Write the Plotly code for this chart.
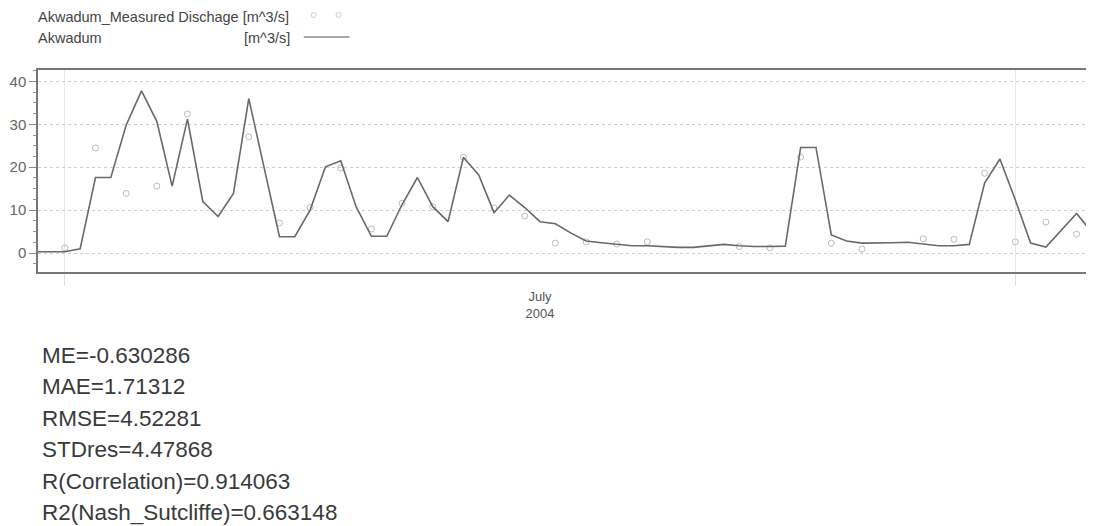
import pandas as pd
import plotly.graph_objs as go

# simulated flow, every 12 hours starting 2004-06-30 00:00
sim_start = "2004-06-30 00:00"
sim_flow = [0.3, 0.3, 0.3, 1.0, 17.6, 17.6, 29.8, 37.8, 30.7, 15.6,
            31.2, 12.0, 8.5, 13.9, 36.0, 19.9, 3.8, 3.8, 10.0, 20.1,
            21.5, 10.8, 3.9, 3.9, 11.3, 17.6, 10.8, 7.3, 22.3, 18.2,
            9.4, 13.5, 10.6, 7.3, 6.8, 4.7, 2.8, 2.4, 2.1, 1.7,
            1.7, 1.5, 1.3, 1.3, 1.7, 2.0, 1.7, 1.5, 1.5, 1.6,
            24.6, 24.6, 4.2, 2.8, 2.3, 2.3, 2.4, 2.5, 2.1, 1.7,
            1.7, 2.0, 16.3, 21.9, 12.4, 2.3, 1.4, 5.4, 9.2, 4.8]

# measured discharge, daily from 2004-07-01
obs_start = "2004-07-01"
obs_flow = [1.2, 24.5, 13.9, 15.6, 32.4, None, 27.1, 7.0, 10.6, 19.8,
            5.6, 11.6, 10.8, 22.3, 10.5, 8.6, 2.3, 2.6, 2.1, 2.6,
            None, None, 1.5, 1.2, 22.4, 2.3, 0.9, None, 3.3, 3.2,
            18.6, 2.6, 7.2, 4.4]

stats_lines = ["ME=-0.630286", "MAE=1.71312", "RMSE=4.52281", "STDres=4.47868",
               "R(Correlation)=0.914063", "R2(Nash_Sutcliffe)=0.663148"]

legend_obs = "Akwadum_Measured Dischage [m^3/s]"
legend_sim = "Akwadum"
legend_unit = "[m^3/s]"

FONT = "Liberation Sans, Arial, sans-serif"
# the page adds an 8px body margin, so the figure is 8px smaller than the window
OFF = 8
W_FIG, H_FIG = 1094 - OFF, 526 - OFF
L, R, T, B = 35 - OFF, 2, 70 - OFF, 254


def px_x(x):
    # page pixel -> paper x
    return (x - OFF - L) / (W_FIG - L - R)


def px_y(y):
    # page pixel -> paper y
    return (H_FIG - B - (y - OFF)) / (H_FIG - T - B)


sim_dates = pd.date_range(sim_start, periods=len(sim_flow), freq="12h")
obs_dates = pd.date_range(obs_start, periods=len(obs_flow), freq="D")

fig = go.Figure()
fig.add_scatter(x=obs_dates, y=obs_flow, mode="markers", showlegend=False,
                marker=dict(symbol="circle-open", size=6, color="#bcbcbc", line=dict(width=1)))
fig.add_scatter(x=sim_dates, y=sim_flow, mode="lines", showlegend=False,
                line=dict(color="#696969", width=1.6))

annotations = []
# stats text block
for i, txt in enumerate(stats_lines):
    annotations.append(dict(text=txt, xref="paper", yref="paper", x=px_x(37), y=px_y(355 + 31.6 * i),
                            xanchor="left", yanchor="middle", showarrow=False,
                            font=dict(family=FONT, size=22.5, color="#3a3a3a")))

# hand-made legend (text first, symbol after)
annotations.append(dict(text=legend_obs, xref="paper", yref="paper", x=px_x(33), y=px_y(17),
                        xanchor="left", yanchor="middle", showarrow=False,
                        font=dict(family=FONT, size=14.5, color="#444")))
annotations.append(dict(text=legend_sim, xref="paper", yref="paper", x=px_x(33), y=px_y(38),
                        xanchor="left", yanchor="middle", showarrow=False,
                        font=dict(family=FONT, size=14.5, color="#444")))
annotations.append(dict(text=legend_unit, xref="paper", yref="paper", x=px_x(290), y=px_y(38),
                        xanchor="right", yanchor="middle", showarrow=False,
                        font=dict(family=FONT, size=14.5, color="#444")))

shapes = [
    dict(type="line", xref="paper", yref="paper", x0=px_x(302), x1=px_x(348), y0=px_y(37), y1=px_y(37),
         line=dict(color="#555", width=1.2)),
]
for cx in (312, 337):
    shapes.append(dict(type="circle", xref="paper", yref="paper", xsizemode="pixel", ysizemode="pixel",
                       xanchor=px_x(cx), yanchor=px_y(15), x0=-2.5, x1=2.5, y0=-2.5, y1=2.5,
                       line=dict(color="#cccccc", width=1)))

fig.update_layout(
    width=W_FIG, height=H_FIG,
    margin=dict(l=L, r=R, t=T, b=B),
    paper_bgcolor="white", plot_bgcolor="white",
    font=dict(family=FONT, color="#555"),
    annotations=annotations,
    shapes=shapes,
    xaxis=dict(type="date", range=["2004-06-30 03:00", "2004-08-03 10:30"],
               tickmode="linear", tick0="2004-07-01", dtick="M1",
               ticklabelmode="period", tickformat="%B<br>%Y",
               ticks="outside", ticklen=12, tickcolor="#dddddd",
               showgrid=True, gridcolor="#e8e8e8",
               showline=True, mirror=True, linecolor="#777", linewidth=1.5,
               tickfont=dict(size=13, color="#555")),
    yaxis=dict(range=[-4.43, 42.66], tick0=0, dtick=10,
               ticks="outside", ticklen=7, tickcolor="#888",
               minor=dict(dtick=2.5, ticks="outside", ticklen=3, tickcolor="#999", showgrid=False),
               showgrid=True, gridcolor="#cdcdcd", griddash="dot", zeroline=False,
               showline=True, mirror=True, linecolor="#777", linewidth=1.5,
               tickfont=dict(size=15, color="#666")),
)

fig.write_html("out.html")
